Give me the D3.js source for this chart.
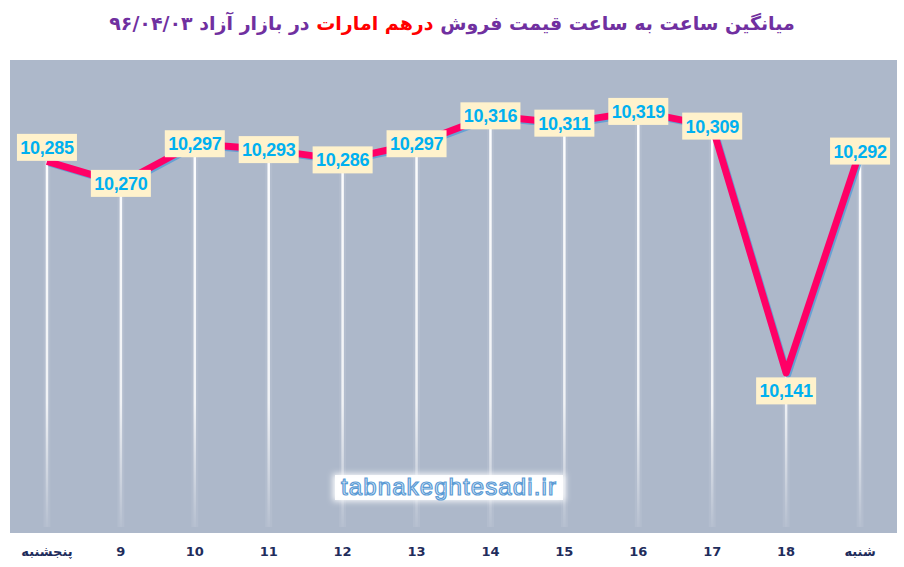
<!DOCTYPE html>
<html>
<head>
<meta charset="utf-8">
<script src="https://cdn.jsdelivr.net/npm/d3@7"></script>
<style>
  html, body { margin: 0; padding: 0; background: #fff; }
  svg { display: block; }
</style>
</head>
<body>
<div id="chart"></div>
<script>
/* Hourly average AED sell price — line with drop lines */

const categories = ['پنجشنبه', '9', '10', '11', '12', '13', '14', '15', '16', '17', '18', 'شنبه'];
const prices = [10285, 10270, 10297, 10293, 10286, 10297, 10316, 10311, 10319, 10309, 10141, 10292];
const yDomain = [10032, 10354];

const titleParts = [
  { text: 'میانگین ساعت به ساعت قیمت فروش ', color: '#7030a0' },
  { text: 'درهم امارات', color: '#ff0000' },
  { text: ' در بازار آزاد ۹۶/۰۴/۰۳', color: '#7030a0' }
];

const W = 904, H = 567;
const plot = { left: 10, top: 60, right: 897, bottom: 533 };

const svg = d3.select('#chart').append('svg')
  .attr('width', W).attr('height', H);

const defs = svg.append('defs');

// drop-line fade
const grad = defs.append('linearGradient')
  .attr('id', 'dropFade').attr('gradientUnits', 'userSpaceOnUse')
  .attr('x1', 0).attr('x2', 0).attr('y1', 100).attr('y2', plot.bottom);
grad.append('stop').attr('offset', '0%').attr('stop-color', '#fff').attr('stop-opacity', 1);
grad.append('stop').attr('offset', '70%').attr('stop-color', '#fff').attr('stop-opacity', 0.8);
grad.append('stop').attr('offset', '100%').attr('stop-color', '#fff').attr('stop-opacity', 0);

const glow = defs.append('filter').attr('id', 'glow')
  .attr('x', '-20%').attr('y', '-60%').attr('width', '140%').attr('height', '220%');
glow.append('feGaussianBlur').attr('stdDeviation', 3);

const x = d3.scaleBand().domain(categories).range([plot.left, plot.right]).padding(0);
const y = d3.scaleLinear().domain(yDomain).range([plot.bottom, plot.top]);
const cx = c => x(c) + x.bandwidth() / 2;

// Plot background
svg.append('rect')
  .attr('x', plot.left).attr('y', plot.top)
  .attr('width', plot.right - plot.left).attr('height', plot.bottom - plot.top)
  .attr('fill', '#adb8ca');

// Title
svg.append('text')
  .attr('x', W / 2).attr('y', 30)
  .attr('text-anchor', 'middle')
  .attr('direction', 'rtl')
  .attr('font-family', 'DejaVu Sans, Noto Sans, sans-serif')
  .attr('font-weight', 'bold')
  .attr('font-size', 19)
  .selectAll('tspan').data(titleParts).join('tspan')
  .attr('fill', d => d.color)
  .text(d => d.text);

// Drop lines
const pts = categories.map((c, i) => ({ cat: c, v: prices[i], i }));
const drops = svg.append('g');
drops.selectAll('line.halo').data(pts).join('line')
  .attr('class', 'halo')
  .attr('x1', d => cx(d.cat)).attr('x2', d => cx(d.cat))
  .attr('y1', d => y(d.v)).attr('y2', plot.bottom - 6)
  .attr('stroke', '#fff').attr('stroke-opacity', 0.08).attr('stroke-width', 7);
drops.selectAll('line.drop').data(pts).join('line')
  .attr('class', 'drop')
  .attr('x1', d => cx(d.cat)).attr('x2', d => cx(d.cat))
  .attr('y1', d => y(d.v)).attr('y2', plot.bottom - 6)
  .attr('stroke', 'url(#dropFade)').attr('stroke-width', 2.5);

// Line + shadow
const line = d3.line().x(d => cx(d.cat)).y(d => y(d.v));
svg.append('path').datum(pts)
  .attr('d', line)
  .attr('transform', 'translate(2,2)')
  .attr('fill', 'none')
  .attr('stroke', '#5b9bd5').attr('stroke-opacity', 0.85)
  .attr('stroke-width', 6).attr('stroke-linejoin', 'round');
svg.append('path').datum(pts)
  .attr('d', line)
  .attr('fill', 'none')
  .attr('stroke', '#ff0066')
  .attr('stroke-width', 7).attr('stroke-linejoin', 'round');

// Data labels
const fmt = d3.format(',');
const minV = d3.min(prices);
const labelDy = d => d.i === 0 ? -14 : (d.v === minV ? 18 : 0);

const lbl = svg.append('g').selectAll('g').data(pts).join('g')
  .attr('transform', d => `translate(${cx(d.cat)},${y(d.v) + labelDy(d)})`);
lbl.append('rect')
  .attr('x', -30).attr('y', -13.5)
  .attr('width', 60).attr('height', 27)
  .attr('fill', '#fff2cc');
lbl.append('text')
  .attr('text-anchor', 'middle').attr('dy', '0.36em')
  .attr('font-family', 'Liberation Sans, Arial, sans-serif')
  .attr('font-weight', 'bold').attr('font-size', 18)
  .attr('letter-spacing', -0.3)
  .attr('fill', '#00b0f0')
  .text(d => fmt(d.v));

// X axis labels
svg.append('g').selectAll('text').data(categories).join('text')
  .attr('x', d => cx(d)).attr('y', 556)
  .attr('text-anchor', 'middle')
  .attr('font-family', 'DejaVu Sans, Liberation Sans, sans-serif')
  .attr('font-weight', 'bold').attr('font-size', 13)
  .attr('fill', '#1f2d5c')
  .text(d => d);

// Watermark
const wm = svg.append('g').attr('transform', 'translate(449,487)');
wm.append('rect')
  .attr('x', -116).attr('y', -13).attr('width', 232).attr('height', 27)
  .attr('fill', '#fff').attr('filter', 'url(#glow)');
wm.append('rect')
  .attr('x', -114).attr('y', -12).attr('width', 228).attr('height', 25)
  .attr('fill', '#fff').attr('fill-opacity', 0.9);
wm.append('text')
  .attr('text-anchor', 'middle').attr('dy', '0.35em')
  .attr('font-family', 'Liberation Sans, Arial, sans-serif')
  .attr('font-size', 24).attr('letter-spacing', 1.1)
  .attr('fill', '#e4eef9')
  .attr('stroke', '#5b9bd5').attr('stroke-width', 1.2)
  .text('tabnakeghtesadi.ir');
</script>
</body>
</html>
